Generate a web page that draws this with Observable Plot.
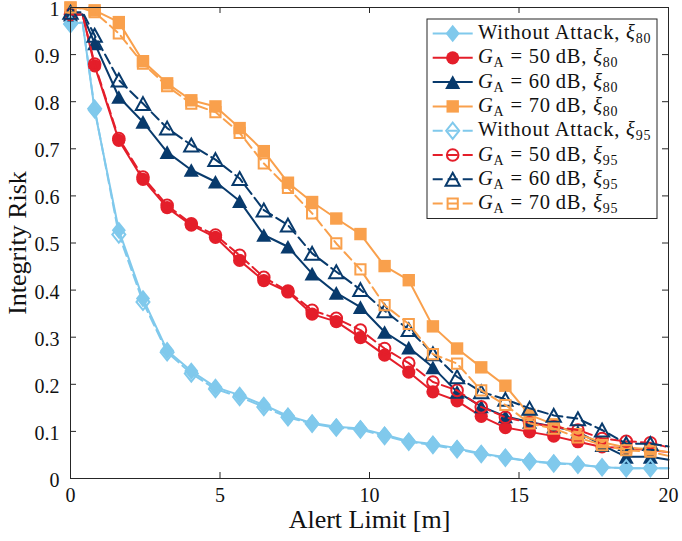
<!DOCTYPE html>
<html>
<head>
<meta charset="utf-8">
<script src="https://cdn.jsdelivr.net/npm/d3@7"></script>
<script src="https://cdn.jsdelivr.net/npm/@observablehq/plot@0.6"></script>
<style>
  body { margin: 0; background: #fff; }
  #chart svg { display: block; }
</style>
</head>
<body>
<div id="chart"></div>
<script>
// Alert limit grid (m) where the curves carry markers
const alertLimit = [0, 0.808, 1.616, 2.424, 3.232, 4.040, 4.848, 5.657, 6.465, 7.273,
  8.081, 8.889, 9.697, 10.505, 11.313, 12.121, 12.929, 13.737, 14.545, 15.354,
  16.162, 16.970, 17.778, 18.586, 19.394];
const kneeX = 0.404;   // last sample before the curves leave ~1
const endX = 20;       // right end of every curve

// Integrity risk at each alert limit
const noAttack80 = [0.965, 0.782, 0.527, 0.382, 0.272, 0.228, 0.194, 0.177, 0.156, 0.133, 0.118, 0.110, 0.106, 0.093, 0.079, 0.073, 0.064, 0.053, 0.045, 0.037, 0.033, 0.030, 0.024, 0.022, 0.022];
const ga50_80 = [0.985, 0.876, 0.718, 0.635, 0.575, 0.538, 0.512, 0.463, 0.420, 0.396, 0.349, 0.333, 0.299, 0.262, 0.226, 0.184, 0.165, 0.132, 0.108, 0.099, 0.090, 0.078, 0.067, 0.065, 0.060];
const ga60_80 = [0.985, 0.924, 0.810, 0.757, 0.693, 0.655, 0.630, 0.589, 0.517, 0.492, 0.435, 0.394, 0.364, 0.311, 0.278, 0.236, 0.184, 0.153, 0.132, 0.120, 0.110, 0.099, 0.071, 0.046, 0.046];
const ga70_80 = [1.000, 0.994, 0.969, 0.886, 0.839, 0.803, 0.790, 0.744, 0.695, 0.628, 0.587, 0.552, 0.519, 0.451, 0.421, 0.323, 0.276, 0.236, 0.197, 0.135, 0.115, 0.094, 0.077, 0.066, 0.062];
const noAttack95 = [0.965, 0.785, 0.518, 0.375, 0.268, 0.223, 0.190, 0.173, 0.152, 0.130, 0.116, 0.108, 0.104, 0.090, 0.078, 0.071, 0.062, 0.052, 0.044, 0.036, 0.032, 0.029, 0.024, 0.022, 0.022];
const ga50_95 = [0.985, 0.880, 0.722, 0.640, 0.580, 0.541, 0.517, 0.474, 0.427, 0.398, 0.357, 0.340, 0.315, 0.276, 0.245, 0.205, 0.187, 0.152, 0.130, 0.118, 0.110, 0.103, 0.085, 0.079, 0.076];
const ga60_95 = [0.990, 0.941, 0.846, 0.796, 0.744, 0.708, 0.677, 0.637, 0.570, 0.538, 0.478, 0.439, 0.401, 0.356, 0.316, 0.265, 0.216, 0.184, 0.168, 0.149, 0.134, 0.127, 0.103, 0.074, 0.074];
const ga70_95 = [1.000, 0.990, 0.945, 0.881, 0.833, 0.796, 0.778, 0.734, 0.669, 0.617, 0.563, 0.499, 0.444, 0.368, 0.328, 0.264, 0.244, 0.187, 0.156, 0.117, 0.106, 0.087, 0.071, 0.060, 0.057];

// Values at the knee and at the right edge, same series order as below
const kneeValues = [0.968, 0.985, 0.985, 0.998, 0.968, 0.985, 0.990, 0.998];
const endValues = [0.022, 0.056, 0.040, 0.056, 0.022, 0.066, 0.068, 0.048];

const xTicks = [0, 5, 10, 15, 20];
const yTicks = [0, 0.1, 0.2, 0.3, 0.4, 0.5, 0.6, 0.7, 0.8, 0.9, 1];

const serif = "Liberation Serif, serif";

// MATLAB-like marker shapes (size is the symbol area, pi*r^2)
const rOf = (size) => Math.sqrt(size / Math.PI);
const shapes = {
  diamond: {draw(c, s) { const r = rOf(s), h = r * 1.1, w = r * 0.88; c.moveTo(0, -h); c.lineTo(w, 0); c.lineTo(0, h); c.lineTo(-w, 0); c.closePath(); }},
  circle: {draw(c, s) { const r = rOf(s); c.moveTo(r, 0); c.arc(0, 0, r, 0, 2 * Math.PI); c.closePath(); }},
  triangle: {draw(c, s) { const r = rOf(s), w = r * 1.05, h = r * 0.95; c.moveTo(0, -h); c.lineTo(w, h); c.lineTo(-w, h); c.closePath(); }},
  square: {draw(c, s) { const r = rOf(s); c.moveTo(-r, -r); c.lineTo(r, -r); c.lineTo(r, r); c.lineTo(-r, r); c.closePath(); }}
};

const colors = {light: "#80C9EC", red: "#E41E2A", navy: "#083A6C", orange: "#F9A04C"};

const series = [
  {values: noAttack80, color: colors.light, shape: "diamond", filled: true, label: "none", xi: "80"},
  {values: ga50_80, color: colors.red, shape: "circle", filled: true, label: "50", xi: "80"},
  {values: ga60_80, color: colors.navy, shape: "triangle", filled: true, label: "60", xi: "80"},
  {values: ga70_80, color: colors.orange, shape: "square", filled: true, label: "70", xi: "80"},
  {values: noAttack95, color: colors.light, shape: "diamond", filled: false, label: "none", xi: "95"},
  {values: ga50_95, color: colors.red, shape: "circle", filled: false, label: "50", xi: "95"},
  {values: ga60_95, color: colors.navy, shape: "triangle", filled: false, label: "60", xi: "95"},
  {values: ga70_95, color: colors.orange, shape: "square", filled: false, label: "70", xi: "95"}
];

const markerR = {
  filled: {diamond: 8, circle: 6.6, triangle: 7.2, square: 6.2},
  hollow: {diamond: 7.4, circle: 5.8, triangle: 6.8, square: 5.1}
};

const W = 682, H = 541;
const margin = {top: 7, right: 14, bottom: 63, left: 70};
const tickPx = 6;
const yTickLen = tickPx / (H - margin.top - margin.bottom);
const xTickLen = tickPx / (W - margin.left - margin.right) * 20;

const marks = [];
series.forEach((s, i) => {
  const pts = alertLimit.map((x, k) => ({x, y: s.values[k]}));
  const linePts = [pts[0], {x: kneeX, y: kneeValues[i]}, ...pts.slice(1), {x: endX, y: endValues[i]}];
  marks.push(Plot.line(linePts, {
    x: "x", y: "y", stroke: s.color, strokeWidth: 2,
    strokeDasharray: s.filled ? null : "10,5", strokeLinejoin: "round"
  }));
  const r = (s.filled ? markerR.filled : markerR.hollow)[s.shape];
  marks.push(Plot.dot(pts, {
    x: "x", y: "y", r, symbol: shapes[s.shape],
    fill: s.filled ? s.color : "none",
    stroke: s.filled ? "none" : s.color,
    strokeWidth: s.filled ? 0 : 2
  }));
});

const fmtY = (d) => d === 0 ? "0" : d === 1 ? "1" : d.toFixed(1);

const plot = Plot.plot({
  width: W, height: H,
  marginTop: margin.top, marginRight: margin.right,
  marginBottom: margin.bottom, marginLeft: margin.left,
  style: {fontFamily: serif, background: "#fff"},
  x: {domain: [0, 20]},
  y: {domain: [0, 1]},
  marks: [
    // inward ticks on all four sides
    Plot.ruleX(xTicks, {x: (d) => d, y1: 0, y2: yTickLen, stroke: "#262626", strokeWidth: 1}),
    Plot.ruleX(xTicks, {x: (d) => d, y1: 1, y2: 1 - yTickLen, stroke: "#262626", strokeWidth: 1}),
    Plot.ruleY(yTicks, {y: (d) => d, x1: 0, x2: xTickLen, stroke: "#262626", strokeWidth: 1}),
    Plot.ruleY(yTicks, {y: (d) => d, x1: 20, x2: 20 - xTickLen, stroke: "#262626", strokeWidth: 1}),
    Plot.axisX(xTicks, {tickSize: 0, tickPadding: 9, fontSize: 20, fontFamily: serif, fill: "#111", tickFormat: (d) => String(d), label: null}),
    Plot.axisY(yTicks, {tickSize: 0, tickPadding: 11, fontSize: 20, fontFamily: serif, fill: "#111", tickFormat: fmtY, label: null, dy: 2}),
    Plot.text(["Alert Limit [m]"], {frameAnchor: "bottom", dy: 49, fontSize: 26, fontFamily: serif, fill: "#111", textAnchor: "middle"}),
    Plot.text(["Integrity Risk"], {frameAnchor: "left", dx: -53, rotate: -90, fontSize: 26, fontFamily: serif, fill: "#111", textAnchor: "middle", letterSpacing: 1}),
    ...marks,
    Plot.frame({stroke: "#262626", strokeWidth: 1})
  ]
});

// Legend box in the upper right corner
const svg = d3.select(plot);
const lg = svg.append("g").attr("font-family", serif).attr("fill", "#111").attr("text-anchor", "start");
const box = {x: 427, y: 19, w: 230, h: 199.5};
lg.append("rect").attr("x", box.x).attr("y", box.y).attr("width", box.w).attr("height", box.h)
  .attr("fill", "#fff").attr("stroke", "#262626").attr("stroke-width", 1);

const rowY0 = 33.5, rowStep = 24.3;
const fs = 20.5, subFs = 14;
series.forEach((s, i) => {
  const cy = rowY0 + i * rowStep;
  const g = lg.append("g");
  g.append("line").attr("x1", 432.7).attr("x2", 472.7).attr("y1", cy).attr("y2", cy)
    .attr("stroke", s.color).attr("stroke-width", 2)
    .attr("stroke-dasharray", s.filled ? null : "10,5");
  const r = (s.filled ? markerR.filled : markerR.hollow)[s.shape];
  const path = d3.symbol(shapes[s.shape], Math.PI * r * r)();
  g.append("path").attr("d", path).attr("transform", `translate(452.7,${cy})`)
    .attr("fill", s.filled ? s.color : "none")
    .attr("stroke", s.filled ? "none" : s.color).attr("stroke-width", 2);
  const t = g.append("text").attr("x", 478).attr("y", cy + 5.5).attr("font-size", fs)
    .attr("text-anchor", "start").attr("letter-spacing", 0.8);
  if (s.label === "none") {
    t.append("tspan").text("Without Attack, ");
  } else {
    t.append("tspan").attr("font-style", "italic").text("G");
    t.append("tspan").attr("dy", 4).attr("font-size", subFs).text("A");
    t.append("tspan").attr("dy", -4).text(` = ${s.label}\u2009dB, `);
  }
  t.append("tspan").attr("font-style", "italic").text("ξ");
  t.append("tspan").attr("dy", 4).attr("font-size", subFs).text(s.xi);
});

document.getElementById("chart").appendChild(plot);
</script>
</body>
</html>
